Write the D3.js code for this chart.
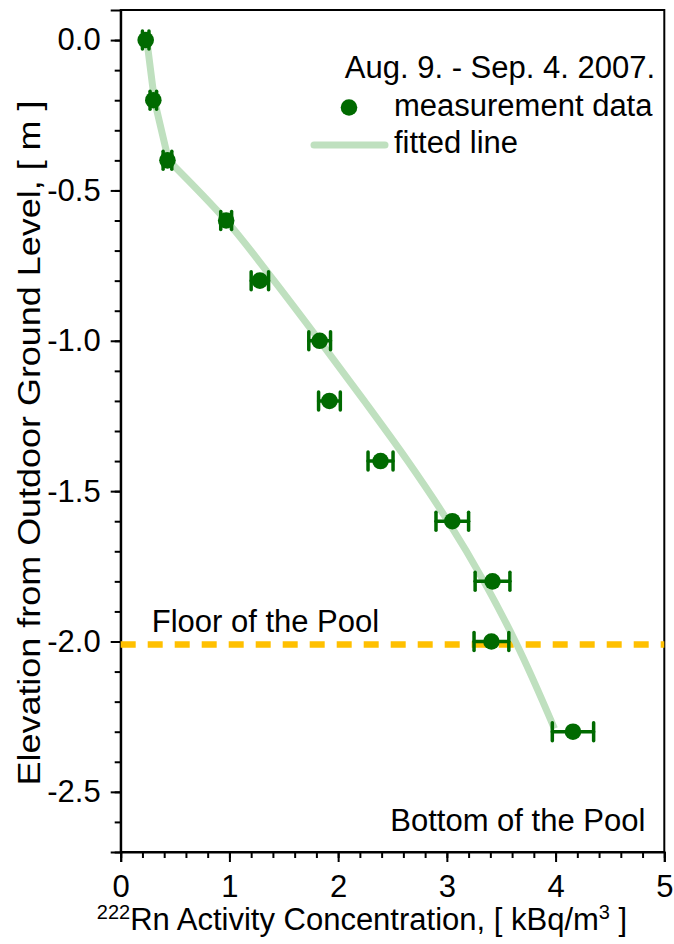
<!DOCTYPE html>
<html>
<head>
<meta charset="utf-8">
<script src="https://cdn.jsdelivr.net/npm/d3@7"></script>
<style>
  body { margin: 0; background: #fff; }
  text { font-family: "Liberation Sans", Arial, sans-serif; fill: #000; }
</style>
</head>
<body>
<div id="chart"></div>
<script>
// measurement data
var depth = [0, -0.2, -0.4, -0.6, -0.8, -1.0, -1.2, -1.4, -1.6, -1.8, -2.0, -2.3];
var conc = [0.23, 0.30, 0.43, 0.97, 1.28, 1.83, 1.92, 2.39, 3.05, 3.42, 3.41, 4.16];
var concErr = [0.03, 0.03, 0.04, 0.05, 0.08, 0.10, 0.10, 0.115, 0.15, 0.16, 0.16, 0.19];

// fitted line (straight near the surface, smooth below -0.4 m)
var fitDepth = [0, -0.2, -0.4, -0.6, -0.8, -1.0, -1.2, -1.4, -1.6, -1.8, -2.0, -2.29];
var fitConc = [0.24, 0.31, 0.44, 0.97, 1.41, 1.83, 2.24, 2.64, 3.01, 3.34, 3.63, 3.99];

var floorLevel = -2.01;
var xTicks = [0, 1, 2, 3, 4, 5];
var yTicks = [0, -0.5, -1.0, -1.5, -2.0, -2.5];

var svgWidth = 674;
var svgHeight = 944;
var margin = { top: 10, right: 9.7, bottom: 92, left: 120.7 };
var width = svgWidth - margin.left - margin.right;
var height = svgHeight - margin.top - margin.bottom;

var green = "#006a00";
var fitColor = "#bfe0bf";
var fs = 31;

var svg = d3.select("#chart")
    .append("svg")
    .attr("width", svgWidth)
    .attr("height", svgHeight);

var g = svg.append("g")
    .attr("transform", `translate(${margin.left}, ${margin.top})`);

var x = d3.scaleLinear().domain([0, 5]).range([0, width]);
var y = d3.scaleLinear().domain([0.1, -2.7]).range([0, height]);

// minor ticks
g.append("g")
    .attr("transform", `translate(0, ${height})`)
    .call(d3.axisBottom(x).tickValues(d3.range(0, 5.01, 0.2)).tickSize(6).tickFormat(""))
    .call(a => a.select(".domain").remove());
g.append("g")
    .call(d3.axisLeft(y).tickValues(d3.range(0, -2.71, -0.1)).tickSize(6).tickFormat(""))
    .call(a => a.select(".domain").remove());

// major ticks + labels
var xAxis = g.append("g")
    .attr("transform", `translate(0, ${height})`)
    .call(d3.axisBottom(x).tickValues(xTicks).tickSize(10).tickPadding(13).tickFormat(d => d.toFixed(0)));
xAxis.selectAll("text").attr("font-size", fs).attr("dy", "0.72em");

var yAxis = g.append("g")
    .call(d3.axisLeft(y).tickValues(yTicks).tickSize(10).tickPadding(10).tickFormat(d => d.toFixed(1)));
yAxis.selectAll("text").attr("font-size", fs);

svg.selectAll(".tick line").attr("stroke", "#000").attr("stroke-width", 2);
svg.selectAll(".domain").attr("stroke-width", 2);

// frame
g.append("rect")
    .attr("width", width)
    .attr("height", height)
    .attr("fill", "none")
    .attr("stroke", "#000")
    .attr("stroke-width", 2);

// floor of the pool
g.append("line")
    .attr("x1", 0)
    .attr("x2", width)
    .attr("y1", y(floorLevel))
    .attr("y2", y(floorLevel))
    .attr("stroke", "#ffc000")
    .attr("stroke-width", 6.5)
    .attr("stroke-dasharray", "15,12");

// fitted line
var fitData = fitDepth.map((d, i) => ({ d: d, c: fitConc[i] }));
var lineTop = d3.line().x(p => x(p.c)).y(p => y(p.d));
var lineLow = d3.line().x(p => x(p.c)).y(p => y(p.d)).curve(d3.curveMonotoneY);
g.append("path")
    .datum(fitData.slice(0, 3))
    .attr("fill", "none")
    .attr("stroke", fitColor)
    .attr("stroke-width", 7)
    .attr("stroke-linejoin", "round")
    .attr("stroke-linecap", "round")
    .attr("d", lineTop);
g.append("path")
    .datum(fitData.slice(2))
    .attr("fill", "none")
    .attr("stroke", fitColor)
    .attr("stroke-width", 7)
    .attr("d", lineLow);

// error bars + points
var data = depth.map((d, i) => ({ d: d, c: conc[i], e: concErr[i] }));
var bars = g.selectAll(".err")
    .data(data)
    .enter()
    .append("g")
    .attr("class", "err")
    .attr("stroke", green)
    .attr("stroke-width", 3.5)
    .attr("stroke-linecap", "round");
bars.append("line")
    .attr("x1", d => x(d.c - d.e)).attr("x2", d => x(d.c + d.e))
    .attr("y1", d => y(d.d)).attr("y2", d => y(d.d));
bars.append("line")
    .attr("x1", d => x(d.c - d.e)).attr("x2", d => x(d.c - d.e))
    .attr("y1", d => y(d.d) - 9).attr("y2", d => y(d.d) + 9);
bars.append("line")
    .attr("x1", d => x(d.c + d.e)).attr("x2", d => x(d.c + d.e))
    .attr("y1", d => y(d.d) - 9).attr("y2", d => y(d.d) + 9);

g.selectAll("circle.pt")
    .data(data)
    .enter()
    .append("circle")
    .attr("class", "pt")
    .attr("cx", d => x(d.c))
    .attr("cy", d => y(d.d))
    .attr("r", 8.3)
    .attr("fill", green);

// annotations
g.append("text")
    .attr("x", 31)
    .attr("y", y(floorLevel) - 13)
    .attr("font-size", fs)
    .text("Floor of the Pool");
g.append("text")
    .attr("x", width - 19)
    .attr("y", y(-2.63))
    .attr("text-anchor", "end")
    .attr("font-size", fs)
    .text("Bottom of the Pool");

// legend
svg.append("text")
    .attr("x", 655).attr("y", 78)
    .attr("text-anchor", "end")
    .attr("font-size", fs)
    .text("Aug. 9. - Sep. 4. 2007.");
svg.append("circle")
    .attr("cx", 349).attr("cy", 107.5).attr("r", 8.3)
    .attr("fill", green);
svg.append("text")
    .attr("x", 394).attr("y", 116)
    .attr("font-size", fs)
    .text("measurement data");
svg.append("line")
    .attr("x1", 314).attr("x2", 385)
    .attr("y1", 145).attr("y2", 145)
    .attr("stroke", fitColor)
    .attr("stroke-width", 7)
    .attr("stroke-linecap", "round");
svg.append("text")
    .attr("x", 394).attr("y", 153)
    .attr("font-size", fs)
    .text("fitted line");

// axis titles
var xt = svg.append("text")
    .attr("x", 362)
    .attr("y", 930)
    .attr("text-anchor", "middle")
    .attr("font-size", fs);
xt.append("tspan").attr("font-size", 20).attr("dy", -11).text("222");
xt.append("tspan").attr("dy", 11).text("Rn Activity Concentration, [ kBq/m");
xt.append("tspan").attr("font-size", 20).attr("dy", -11).text("3");
xt.append("tspan").attr("dy", 11).text(" ]");

svg.append("text")
    .attr("transform", "rotate(-90)")
    .attr("x", -443)
    .attr("y", 40)
    .attr("text-anchor", "middle")
    .attr("font-size", 31)
    .attr("textLength", 685)
    .attr("lengthAdjust", "spacingAndGlyphs")
    .text("Elevation from Outdoor Ground Level, [ m ]");
</script>
</body>
</html>
